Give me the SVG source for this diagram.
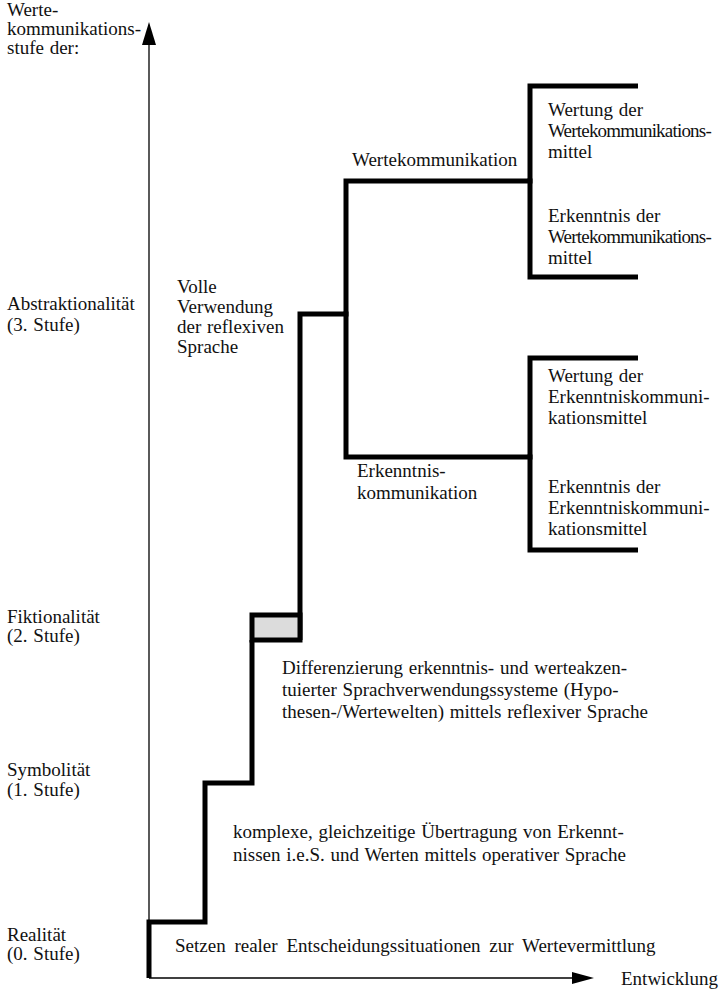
<svg xmlns="http://www.w3.org/2000/svg" width="722" height="989" viewBox="0 0 722 989">
<style>
text{font-family:'Liberation Serif','DejaVu Serif','Noto Serif',serif;font-size:19px;word-spacing:1px;fill:#111}
.tight{letter-spacing:-0.8px}
.thick{fill:none;stroke:#000;stroke-width:5;stroke-linejoin:miter;stroke-linecap:butt}
.axis{fill:none;stroke:#000;stroke-width:1.3}
</style>
<rect width="722" height="989" fill="#fff"/>
<g id="connectors">
<line class="axis" x1="149" y1="978" x2="149" y2="42"/>
<polygon points="149,22 142,45 156,45" fill="#000"/>
<line class="axis" x1="149" y1="978" x2="575" y2="978"/>
<polygon points="594,978 572,972 572,984" fill="#000"/>
<path class="thick" d="M149,978 V922 H205 V783 H252 V640"/>
<path class="thick" d="M300,640 V314 H346 V181 H530 V86 H638"/>
<path class="thick" d="M530,178.5 V277 H638"/>
<path class="thick" d="M346,311.5 V457 H530 V358 H638"/>
<path class="thick" d="M530,454.5 V550 H638"/>
</g>
<g id="stage2box">
<rect x="252" y="615" width="48" height="25" fill="#dcdcdc" stroke="#000" stroke-width="5"/>
</g>
<g id="axis-title"><text x="7" y="16">Werte-<tspan x="7" dy="19">kommunikations-</tspan><tspan x="7" dy="19">stufe der:</tspan></text></g>
<g id="stufe3"><text x="7" y="310">Abstraktionalität<tspan x="7" dy="21">(3. Stufe)</tspan></text></g>
<g id="stufe2"><text x="7" y="623">Fiktionalität<tspan x="7" dy="19">(2. Stufe)</tspan></text></g>
<g id="stufe1"><text x="7" y="776">Symbolität<tspan x="7" dy="20">(1. Stufe)</tspan></text></g>
<g id="stufe0"><text x="7" y="941">Realität<tspan x="7" dy="19">(0. Stufe)</tspan></text></g>
<g id="volle"><text x="177" y="293">Volle<tspan x="177" dy="20">Verwendung</tspan><tspan x="177" dy="20">der reflexiven</tspan><tspan x="177" dy="20">Sprache</tspan></text></g>
<g id="wertekomm"><text x="352" y="166">Wertekommunikation</text></g>
<g id="erkkomm"><text x="357" y="477">Erkenntnis-<tspan x="357" dy="22">kommunikation</tspan></text></g>
<g id="leaf1"><text x="548" y="116">Wertung der<tspan x="548" dy="21" class="tight">Wertekommunikations-</tspan><tspan x="548" dy="21">mittel</tspan></text></g>
<g id="leaf2"><text x="548" y="222">Erkenntnis der<tspan x="548" dy="21" class="tight">Wertekommunikations-</tspan><tspan x="548" dy="21">mittel</tspan></text></g>
<g id="leaf3"><text x="548" y="382">Wertung der<tspan x="548" dy="21">Erkenntniskommuni-</tspan><tspan x="548" dy="21">kationsmittel</tspan></text></g>
<g id="leaf4"><text x="548" y="493">Erkenntnis der<tspan x="548" dy="21">Erkenntniskommuni-</tspan><tspan x="548" dy="21">kationsmittel</tspan></text></g>
<g id="diff"><text x="282" y="674">Differenzierung erkenntnis- und werteakzen-<tspan x="282" dy="22">tuierter Sprachverwendungssysteme (Hypo-</tspan><tspan x="282" dy="22">thesen-/Wertewelten) mittels reflexiver Sprache</tspan></text></g>
<g id="komplex"><text x="233" y="838">komplexe, gleichzeitige Übertragung von Erkennt-<tspan x="233" dy="23">nissen i.e.S. und Werten mittels operativer Sprache</tspan></text></g>
<g id="setzen"><text x="175" y="952" style="word-spacing:4px">Setzen realer Entscheidungssituationen zur Wertevermittlung</text></g>
<g id="entwicklung"><text x="621" y="985">Entwicklung</text></g>
</svg>
